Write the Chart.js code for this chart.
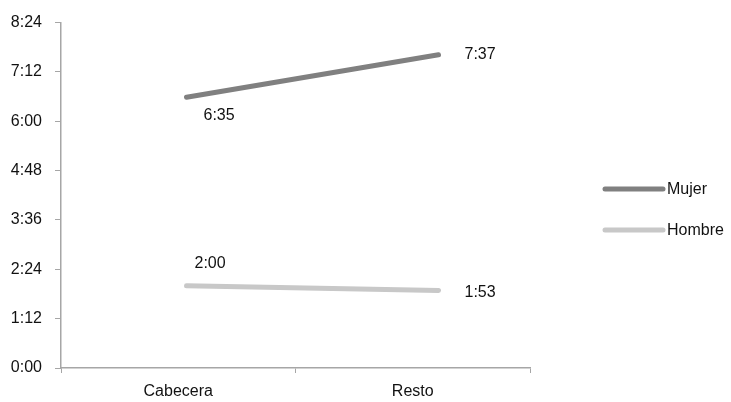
<!DOCTYPE html>
<html>
<head>
<meta charset="utf-8">
<script src="https://cdn.jsdelivr.net/npm/chart.js@4.4.1/dist/chart.umd.min.js"></script>
<style>
  html, body { margin: 0; padding: 0; background: #fff; }
  #wrap { width: 731px; height: 402px; position: relative; }
</style>
</head>
<body>
<div id="wrap"><canvas id="c" width="731" height="402"></canvas></div>
<script>
// datos (minutos)
const categorias = ['Cabecera', 'Resto'];
const mujer  = [395, 457];   // 6:35, 7:37
const hombre = [120, 113];   // 2:00, 1:53
const series = ['Mujer', 'Hombre'];

function hhmm(v){ const m = Math.round(v); return Math.floor(m/60) + ':' + String(m % 60).padStart(2,'0'); }

const FONT = "'Liberation Sans', Arial, sans-serif";
const AXIS = '#a6a6a6';

// posicion de las etiquetas relativa al punto (px)
const labelOffsets = [
  [{dx: 17, dy: 18, align: 'left'}, {dx: 26, dy: 0, align: 'left'}],
  [{dx: 8,  dy: -22, align: 'left'}, {dx: 26, dy: 2, align: 'left'}]
];

const etiquetas = {
  id: 'etiquetas',
  afterDatasetsDraw(chart){
    const ctx = chart.ctx;
    ctx.save();
    ctx.font = '16px ' + FONT;
    ctx.fillStyle = '#111';
    ctx.textBaseline = 'middle';
    chart.data.datasets.forEach((ds, di) => {
      chart.getDatasetMeta(di).data.forEach((pt, i) => {
        const o = labelOffsets[di][i];
        ctx.textAlign = o.align;
        ctx.fillText(hhmm(ds.data[i].y), pt.x + o.dx, pt.y + o.dy);
      });
    });
    ctx.restore();
  }
};

const leyenda = {
  id: 'leyenda',
  afterDraw(chart){
    const ctx = chart.ctx;
    ctx.save();
    ctx.font = '16px ' + FONT;
    ctx.textBaseline = 'middle';
    ctx.textAlign = 'left';
    chart.data.datasets.forEach((ds, i) => {
      const y = 189 + i * 41;
      ctx.strokeStyle = ds.borderColor;
      ctx.lineWidth = 5;
      ctx.lineCap = 'round';
      ctx.beginPath(); ctx.moveTo(605, y); ctx.lineTo(663, y); ctx.stroke();
      ctx.fillStyle = '#111';
      ctx.fillText(ds.label, 667, y + 1);
    });
    ctx.restore();
  }
};

const toPts = arr => arr.map((v, i) => ({x: i, y: v}));

new Chart(document.getElementById('c'), {
  type: 'line',
  data: {
    labels: categorias,
    datasets: [
      { label: series[0], data: toPts(mujer),  borderColor: '#808080', xAxisID: 'xl' },
      { label: series[1], data: toPts(hombre), borderColor: '#c8c8c8', xAxisID: 'xl' }
    ]
  },
  options: {
    responsive: false,
    animation: false,
    layout: { padding: { left: 0, top: 19, right: 201, bottom: 0 } },
    elements: {
      line: { borderWidth: 5, borderCapStyle: 'round', tension: 0 },
      point: { radius: 0, hoverRadius: 0 }
    },
    plugins: { legend: { display: false }, tooltip: { enabled: false } },
    scales: {
      x: {
        type: 'category',
        offset: true,
        grid: { offset: true, drawOnChartArea: false, tickLength: 5, color: AXIS },
        border: { color: AXIS, width: 1.5 },
        ticks: { color: '#111', font: { family: FONT, size: 16 }, padding: 9, maxRotation: 0 },
        afterFit(s){ s.height = 34; }
      },
      xl: { type: 'linear', display: false, min: -0.498, max: 1.363 },
      y: {
        min: 0, max: 504,
        grid: { drawOnChartArea: false, tickLength: 6, color: AXIS },
        border: { color: AXIS, width: 1.5 },
        ticks: { stepSize: 72, color: '#111', font: { family: FONT, size: 16 }, padding: 13, callback: v => hhmm(v) },
        afterFit(s){ s.width = 61; }
      }
    }
  },
  plugins: [etiquetas, leyenda]
});
</script>
</body>
</html>
